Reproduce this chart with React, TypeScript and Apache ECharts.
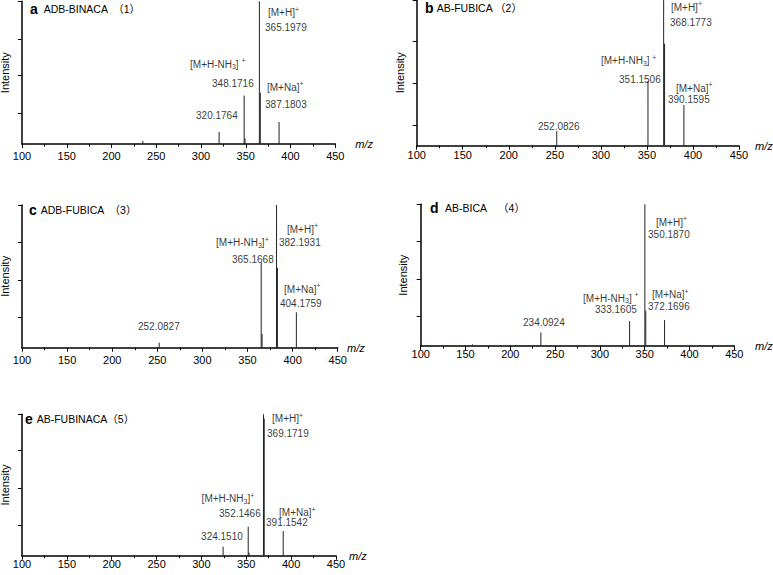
import React, { useEffect, useRef } from 'react';
import * as echarts from 'echarts';

const FONT = '"Liberation Sans", Arial, "Noto Sans CJK SC", sans-serif';

// ---- data ----
const panelLetters = ['a', 'b', 'c', 'd', 'e'];
const compoundNames = [
  'ADB-BINACA  （1）',
  'AB-FUBICA （2）',
  'ADB-FUBICA  （3）',
  'AB-BICA    （4）',
  'AB-FUBINACA（5）',
];
const xTicks = [100, 150, 200, 250, 300, 350, 400, 450];

// peaks: [m/z, relative intensity %]
const peaksA = [[235.0, 2.1], [320.1764, 8.4], [348.1716, 34], [349.17, 4], [365.1979, 100], [366.2, 36], [387.1803, 15.4]];
const peaksB = [[252.0826, 10], [351.1506, 44.4], [368.1773, 100], [369.18, 70], [390.1595, 27.9]];
const peaksC = [[252.0827, 3.5], [365.1668, 59.6], [366.17, 9.6], [382.1931, 100], [383.19, 56], [404.1759, 24.8]];
const peaksD = [[158.0, 1.2], [230.0, 0.8], [234.0924, 9.6], [333.1605, 17.6], [350.187, 100], [351.19, 25], [372.1696, 18.3]];
const peaksE = [[324.151, 6.4], [352.1466, 20.5], [353.15, 2.1], [369.1719, 100], [370.0, 97], [391.1542, 17.4]];

// annotation anchors: [m/z, intensity, text]
const labelsA = [
  [374.8, 92.0, '[M+H]{sup|+}'],
  [371.5, 81.8, '365.1979'],
  [287.7, 55.9, '[M+H-NH{sub|3}]{sp| }{sup|+}'],
  [312.3, 42.5, '348.1716'],
  [373.7, 39.7, '[M+Na]{sup|+}'],
  [371.5, 28.0, '387.1803'],
  [294.4, 20.3, '320.1764'],
];
const labelsB = [
  [376.1, 95.0, '[M+H]{sup|+}'],
  [375.1, 84.7, '368.1773'],
  [300.1, 58.3, '[M+H-NH{sub|3}]{sp| }{sup|+}'],
  [319.7, 45.6, '351.1506'],
  [381.6, 39.4, '[M+Na]{sup|+}'],
  [372.9, 31.4, '390.1595'],
  [231.7, 13.5, '252.0826'],
];
const labelsC = [
  [393.8, 83.0, '[M+H]{sup|+}'],
  [384.9, 73.6, '382.1931'],
  [315.1, 73.6, '[M+H-NH{sub|3}]{sup|+}'],
  [332.8, 61.9, '365.1668'],
  [390.5, 40.9, '[M+Na]{sup|+}'],
  [386.0, 31.1, '404.1759'],
  [228.6, 15.2, '252.0827'],
];
const labelsD = [
  [362.6, 87.3, '[M+H]{sup|+}'],
  [353.7, 78.8, '350.1870'],
  [281.2, 33.6, '[M+H-NH{sub|3}]{sp| }{sup|+}'],
  [294.6, 25.6, '333.1605'],
  [358.2, 36.0, '[M+Na]{sup|+}'],
  [353.7, 27.7, '372.1696'],
  [214.2, 16.4, '234.0924'],
];
const labelsE = [
  [378.7, 96.7, '[M+H]{sup|+}'],
  [373.1, 86.6, '369.1719'],
  [300.2, 40.1, '[M+H-NH{sub|3}]{sup|+}'],
  [319.6, 29.5, '352.1466'],
  [386.5, 30.3, '[M+Na]{sup|+}'],
  [372.0, 23.4, '391.1542'],
  [299.6, 13.9, '324.1510'],
];

// y-axis tick marks (% of full scale)
const yTicksA = [21.5, 47.9, 73.6, 100];
const yTicksB = [14.2, 42.8, 71.4, 100];
const yTicksC = [21, 47.4, 73.9, 100];
const yTicksD = [20.7, 47.0, 73.6, 100];
const yTicksE = [21.7, 47.9, 74.3, 100];

const allPeaks = [peaksA, peaksB, peaksC, peaksD, peaksE];
const allLabels = [labelsA, labelsB, labelsC, labelsD, labelsE];
const allYTicks = [yTicksA, yTicksB, yTicksC, yTicksD, yTicksE];

// ---- layout ----
const grids = [
  { left: 22, top: 1.3, width: 313.3, height: 142.7 },
  { left: 416.7, top: 0, width: 322.3, height: 145.7 },
  { left: 22, top: 205, width: 315.7, height: 142.7 },
  { left: 420.7, top: 204.3, width: 313.6, height: 141.7 },
  { left: 22, top: 414.3, width: 314, height: 141.4 },
];
const labelMargins = [6.5, 4.2, 7.2, 2.3, 2.8];
const mzGap = [20, 16, 9.3, 20.7, 11];
const mzDown = [13, 11.3, 14, 6.5, 6.3];
const intensityGap = [12, 11.7, 12, 12.4, 12];
const titlePos = [
  { lx: 30, nx: 43.7, y: 9.3 },
  { lx: 425, nx: 436.7, y: 8.3 },
  { lx: 29, nx: 40.7, y: 210 },
  { lx: 430, nx: 445, y: 208.3 },
  { lx: 25, nx: 36.7, y: 419.3 },
];

const rich = {
  sup: { fontSize: 7, fontFamily: FONT, color: '#000', padding: [0, 0, 7, 0] },
  sub: { fontSize: 7, fontFamily: FONT, color: '#000', padding: [5, 0, 0, 0] },
  sp: { fontSize: 10, fontFamily: FONT, color: '#000' },
};

export default function App() {
  const ref = useRef<HTMLDivElement>(null);
  useEffect(() => {
    document.body.style.margin = '0';
    if (!ref.current) return;
    const chart = echarts.init(ref.current, undefined, { renderer: 'svg' });

    const xAxis: any[] = [];
    const yAxis: any[] = [];
    const series: any[] = [];
    const graphic: any[] = [];

    grids.forEach((g, i) => {
      xAxis.push({
        type: 'value',
        gridIndex: i,
        min: xTicks[0],
        max: xTicks[xTicks.length - 1],
        interval: 50,
        axisLine: { show: true, onZero: false, lineStyle: { color: '#000', width: 1.5 } },
        axisTick: { show: true, length: 4, lineStyle: { color: '#000', width: 1 } },
        minorTick: { show: true, splitNumber: 2, length: 2.5, lineStyle: { color: '#000', width: 1 } },
        splitLine: { show: false },
        minorSplitLine: { show: false },
        axisLabel: { color: '#000', fontSize: 11, fontFamily: FONT, margin: labelMargins[i] },
        name: 'm/z',
        nameLocation: 'end',
        nameGap: mzGap[i],
        nameTextStyle: {
          color: '#000', fontStyle: 'italic', fontSize: 11, fontFamily: FONT,
          align: 'left', padding: [mzDown[i] * 2, 0, 0, 0],
        },
      });
      yAxis.push({
        type: 'value',
        gridIndex: i,
        min: 0,
        max: 100,
        axisLine: { show: true, onZero: false, lineStyle: { color: '#000', width: 1.5 } },
        axisTick: { show: true, length: 4, customValues: allYTicks[i], lineStyle: { color: '#000', width: 1 } },
        axisLabel: { show: false },
        splitLine: { show: false },
        name: 'Intensity',
        nameLocation: 'middle',
        nameGap: intensityGap[i],
        nameRotate: 90,
        nameTextStyle: { color: '#000', fontSize: 11, fontFamily: FONT },
      });
      series.push({
        type: 'custom',
        xAxisIndex: i,
        yAxisIndex: i,
        data: allPeaks[i],
        clip: false,
        renderItem: (params: any, api: any) => {
          const x = api.value(0);
          const y = api.value(1);
          const top = api.coord([x, y]);
          const bot = api.coord([x, 0]);
          return {
            type: 'line',
            shape: { x1: top[0], y1: top[1], x2: bot[0], y2: bot[1] },
            style: { stroke: '#222', lineWidth: 1 },
          };
        },
      });
      series.push({
        type: 'scatter',
        xAxisIndex: i,
        yAxisIndex: i,
        symbolSize: 0,
        itemStyle: { color: 'transparent' },
        silent: true,
        data: allLabels[i].map((l) => ({ value: [l[0], l[1]], name: l[2] })),
        label: {
          show: true,
          position: 'inside',
          align: 'left',
          verticalAlign: 'middle',
          color: '#000',
          fontSize: 10,
          fontFamily: FONT,
          formatter: (p: any) => p.name,
          rich,
        },
      });
      const t = titlePos[i];
      graphic.push({
        type: 'text', x: t.lx, y: t.y,
        style: { text: panelLetters[i], fontSize: 14, fontWeight: 'bold', fontFamily: FONT, fill: '#000', verticalAlign: 'middle' },
      });
      graphic.push({
        type: 'text', x: t.nx, y: t.y,
        style: { text: compoundNames[i], fontSize: 10.5, fontFamily: FONT, fill: '#000', verticalAlign: 'middle' },
      });
    });

    chart.setOption({
      animation: false,
      backgroundColor: '#fff',
      grid: grids.map((g) => ({ ...g, containLabel: false, outerBoundsMode: 'none' })),
      xAxis,
      yAxis,
      series,
      graphic,
    });
    return () => chart.dispose();
  }, []);
  return <div ref={ref} style={{ width: 773, height: 575 }} />;
}
